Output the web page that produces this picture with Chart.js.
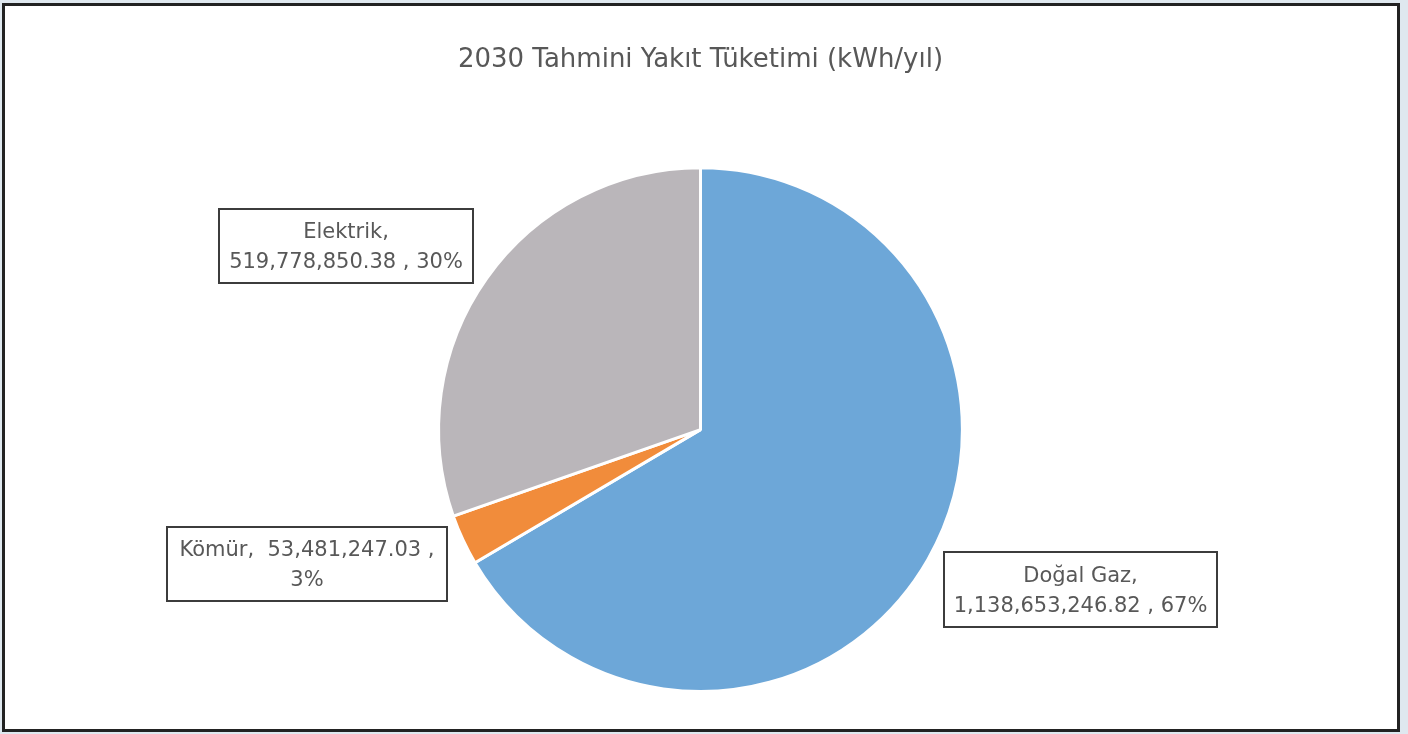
<!DOCTYPE html>
<html><head><meta charset="utf-8">
<script src="https://cdn.jsdelivr.net/npm/chart.js@4.4.1/dist/chart.umd.min.js"></script>
<style>
html,body{margin:0;padding:0;width:1408px;height:734px;overflow:hidden;background:#dfe8ef;}
#frame{position:absolute;left:2px;top:3px;width:1398px;height:729px;box-sizing:border-box;border:3px solid #222;background:#fff;}
#c{position:absolute;left:0;top:0;}
</style></head><body>
<div id="frame"></div>
<canvas id="c" width="1408" height="734"></canvas>
<script>
// Fuel consumption forecast for 2030, kWh per year
const categories = ['Doğal Gaz', 'Kömür', 'Elektrik'];
const consumption = [1138653246.82, 53481247.03, 519778850.38];
const sliceColors = ['#6da7d8', '#f18c3b', '#bab6ba'];
const chartTitle = '2030 Tahmini Yakıt Tüketimi (kWh/yıl)';

const TEXT = '#585858';
const FONT = '"DejaVu Sans", sans-serif';

const fmt = v => v.toLocaleString('en-US', {minimumFractionDigits: 2, maximumFractionDigits: 2});

// Boxed callouts: name, value and share, wrapped either after the name or after the value
const calloutPlugin = {
  id: 'callouts',
  afterDatasetsDraw(chart, args, opts) {
    const ctx = chart.ctx;
    const data = chart.data.datasets[0].data;
    const total = data.reduce((a, b) => a + b, 0);
    ctx.save();
    ctx.font = opts.fontSize + 'px ' + FONT;
    ctx.textAlign = 'center';
    ctx.textBaseline = 'middle';
    data.forEach((v, i) => {
      const b = opts.boxes[i];
      const pct = Math.round(v / total * 100) + '%';
      const name = chart.data.labels[i];
      const lines = opts.wrap[i] === 'name'
        ? [name + ',', fmt(v) + ' , ' + pct]
        : [name + ',  ' + fmt(v) + ' ,', pct];
      ctx.lineWidth = 2;
      ctx.strokeStyle = '#3c3c3c';
      ctx.fillStyle = '#ffffff';
      ctx.fillRect(b.x, b.y, b.w, b.h);
      ctx.strokeRect(b.x, b.y, b.w, b.h);
      ctx.fillStyle = TEXT;
      const cx = b.x + b.w / 2, cy = b.y + b.h / 2;
      ctx.fillText(lines[0], cx, cy - 13);
      ctx.fillText(lines[1], cx, cy + 17);
    });
    ctx.restore();
  }
};

new Chart(document.getElementById('c'), {
  type: 'pie',
  data: {
    labels: categories,
    datasets: [{
      data: consumption,
      backgroundColor: sliceColors,
      borderColor: '#ffffff',
      borderWidth: 3
    }]
  },
  options: {
    responsive: false,
    animation: false,
    devicePixelRatio: 1,
    layout: {padding: {left: 437, right: 444, top: 0, bottom: 41}},
    plugins: {
      legend: {display: false},
      tooltip: {enabled: false},
      title: {
        display: true,
        text: chartTitle,
        color: TEXT,
        font: {family: FONT, size: 26, weight: 'normal', lineHeight: 1.2},
        padding: {top: 45, bottom: 90}
      },
      callouts: {
        fontSize: 21,
        wrap: ['name', 'value', 'name'],
        boxes: [
          {x: 944, y: 552, w: 273, h: 75},
          {x: 167, y: 527, w: 280, h: 74},
          {x: 219, y: 209, w: 254, h: 74}
        ]
      }
    }
  },
  plugins: [calloutPlugin]
});
</script>
</body></html>
